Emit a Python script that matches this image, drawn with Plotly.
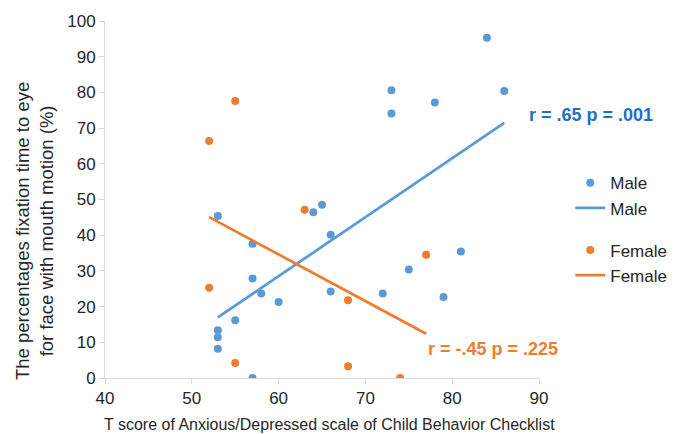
import numpy as np
import plotly.graph_objects as go

male_x = [53, 57, 57, 58, 60, 55, 53, 53, 53, 57, 64, 65, 66, 66, 72, 75, 81, 79, 73, 73, 84, 86, 78]
male_y = [45.4, 37.6, 27.9, 23.7, 21.3, 16.2, 13.4, 11.4, 8.2, 0.0, 46.4, 48.5, 40.1, 24.2, 23.7, 30.4, 35.4, 22.7, 80.6, 74.1, 95.3, 80.4, 77.2]
female_x = [55, 52, 63, 52, 68, 55, 68, 74, 77]
female_y = [77.6, 66.4, 47.1, 25.3, 21.8, 4.2, 3.3, 0.0, 34.5]

BLUE = "#5B9BD5"
ORANGE = "#ED7D31"
FONT = "Liberation Sans, Arial, sans-serif"


def fit(xs, ys):
    xs = np.array(xs, float)
    ys = np.array(ys, float)
    m, b = np.polyfit(xs, ys, 1)
    xr = np.array([xs.min(), xs.max()])
    return xr, m * xr + b


mx, my = fit(male_x, male_y)
fx, fy = fit(female_x, female_y)

fig = go.Figure()
fig.add_trace(go.Scatter(x=male_x, y=male_y, mode="markers", name="Male",
                         marker=dict(color=BLUE, size=8), legendgroup="m"))
fig.add_trace(go.Scatter(x=mx, y=my, mode="lines", name="Male",
                         line=dict(color=BLUE, width=2.75), legendgroup="m"))
fig.add_trace(go.Scatter(x=female_x, y=female_y, mode="markers", name="Female",
                         marker=dict(color=ORANGE, size=8), legendgroup="f"))
fig.add_trace(go.Scatter(x=fx, y=fy, mode="lines", name="Female",
                         line=dict(color=ORANGE, width=2.75), legendgroup="f"))

axis_common = dict(showgrid=False, zeroline=False, showline=True, linecolor="#d9d9d9",
                   linewidth=1, ticks="outside", tickcolor="#d9d9d9", ticklen=5,
                   automargin=False,
                   tickfont=dict(family=FONT, size=17, color="#262626"))

fig.update_xaxes(range=[40, 90], dtick=10, **axis_common)
fig.update_yaxes(range=[0, 100], dtick=10, **axis_common)

fig.update_layout(
    width=672, height=426,
    margin=dict(l=97, r=141, t=13, b=56, autoexpand=False),
    plot_bgcolor="white", paper_bgcolor="white",
    font=dict(family=FONT, color="#262626"),
    showlegend=True,
    legend=dict(x=1.072, y=0.596, xanchor="left", yanchor="top",
                font=dict(family=FONT, size=17, color="#262626"),
                tracegroupgap=17, bgcolor="rgba(0,0,0,0)"),
    annotations=[
        dict(text="T score of Anxious/Depressed scale of Child Behavior Checklist",
             xref="paper", yref="paper", x=0.518, y=-0.129, xanchor="center", yanchor="middle",
             showarrow=False, font=dict(family=FONT, size=16, color="#262626")),
        dict(text="The percentages fixation time to eye<br>for face with mouth motion (%)",
             xref="paper", yref="paper", x=-0.161, y=0.412, xanchor="center", yanchor="middle",
             showarrow=False, textangle=-90,
             font=dict(family=FONT, size=18.5, color="#262626")),
        dict(text="<b>r = .65 p = .001</b>", xref="paper", yref="paper", x=1.12, y=0.737,
             xanchor="center", yanchor="middle",
             showarrow=False, font=dict(family=FONT, size=18, color="#1F6FC4")),
        dict(text="<b>r = -.45 p = .225</b>", xref="paper", yref="paper", x=0.894, y=0.081,
             xanchor="center", yanchor="middle",
             showarrow=False, font=dict(family=FONT, size=18, color=ORANGE)),
    ],
)

fig.write_html("out.html")
